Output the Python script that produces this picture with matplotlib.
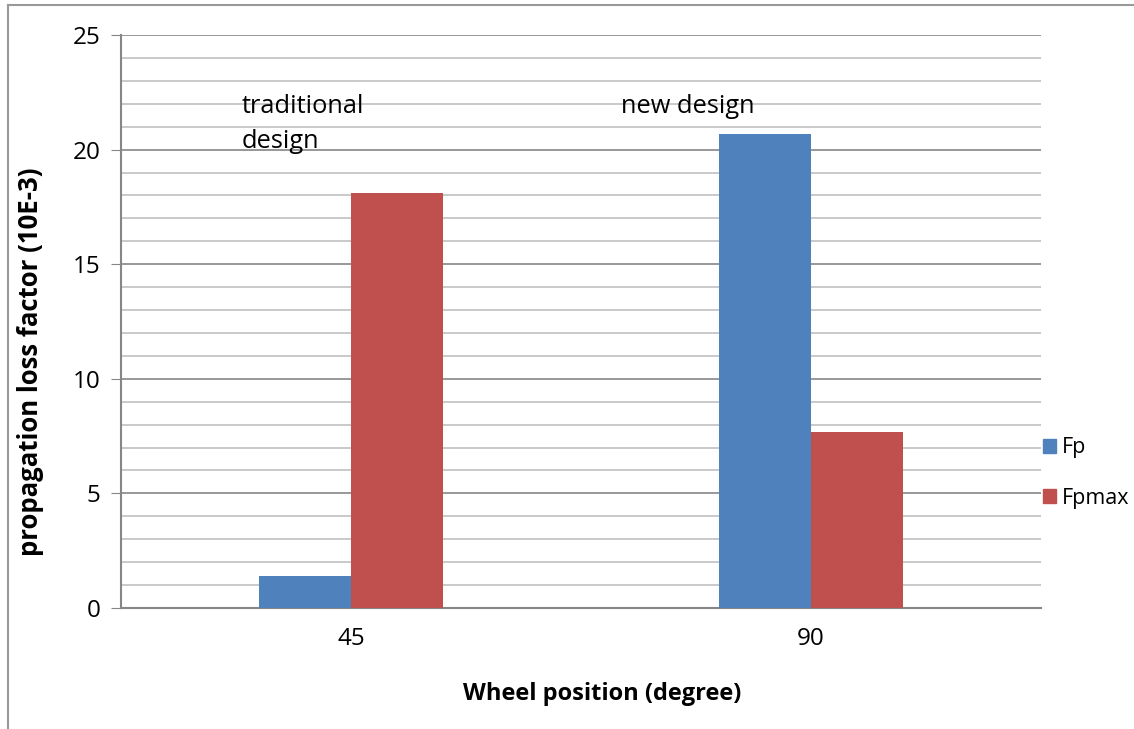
import matplotlib
matplotlib.use("Agg")
import matplotlib.pyplot as plt
import numpy as np
from matplotlib.lines import Line2D
from matplotlib.patches import Patch

categories = ["45", "90"]
series_names = ["Fp", "Fpmax"]
fp_values = [1.4, 20.7]
fpmax_values = [18.1, 7.7]
y_ticks = [0, 5, 10, 15, 20, 25]
colors = ["#4F81BD", "#C0504D"]

plt.rcParams['font.family'] = ['Open Sans', 'DejaVu Sans']

fig = plt.figure(figsize=(11.34, 7.29), dpi=100)
ax = fig.add_axes([121/1134, 1-608/729, 920/1134, 573/729])

x = np.arange(len(categories))
w = 0.2
ax.bar(x - w/2, fp_values, w, color=colors[0], label=series_names[0], zorder=3)
ax.bar(x + w/2, fpmax_values, w, color=colors[1], label=series_names[1], zorder=3)

ax.set_xlim(-0.5, 1.5)
ax.set_ylim(0, 25)
ax.set_yticks(y_ticks)
ax.set_yticks(np.arange(0, 26, 1), minor=True)
ax.set_xticks(x)
ax.set_xticklabels(categories)
ax.grid(axis='y', which='major', color='#868686', linewidth=1.2, zorder=0)
ax.grid(axis='y', which='minor', color='#c0c0c0', linewidth=1.2, zorder=0)
ax.tick_params(axis='y', which='major', length=7, color='#868686', labelsize=17.5, pad=8)
ax.tick_params(axis='y', which='minor', length=0)
ax.tick_params(axis='x', length=0, labelsize=17.5, pad=14)
for s in ['top', 'right']:
    ax.spines[s].set_visible(False)
for s in ['left', 'bottom']:
    ax.spines[s].set_color('#868686')
    ax.spines[s].set_linewidth(1.5)

ax.set_ylabel("propagation loss factor (10E-3)", fontsize=18.5, fontweight='bold')
ax.yaxis.set_label_coords((44-121)/920, (608-362)/573)
ax.set_xlabel("Wheel position (degree)", fontsize=17, fontweight='bold')
ax.xaxis.set_label_coords((602-121)/920, -(682-608)/573)

ax.text(242/1134, 1-94/729, "traditional\ndesign", transform=fig.transFigure,
        fontsize=18.3, va='top', ha='left', linespacing=1.55, zorder=4)
ax.text(621/1134, 1-94/729, "new design", transform=fig.transFigure,
        fontsize=18.3, va='top', ha='left', zorder=4)

handles = [Patch(color=colors[0]), Patch(color=colors[1])]
fig.legend(handles, series_names, loc='center left', bbox_to_anchor=(1037/1134, 1-473/729),
           frameon=False, fontsize=15.5, handlelength=0.6, handleheight=0.6,
           handletextpad=0.25, labelspacing=1.35, borderaxespad=0, borderpad=0.3)

# figure border (top and left)
fig.add_artist(Line2D([8/1134, 1], [1-5/729, 1-5/729], transform=fig.transFigure,
                      color='#999999', linewidth=1.5))
fig.add_artist(Line2D([8/1134, 8/1134], [0, 1-5/729], transform=fig.transFigure,
                      color='#999999', linewidth=1.5))

fig.savefig("out.png", dpi=100)
